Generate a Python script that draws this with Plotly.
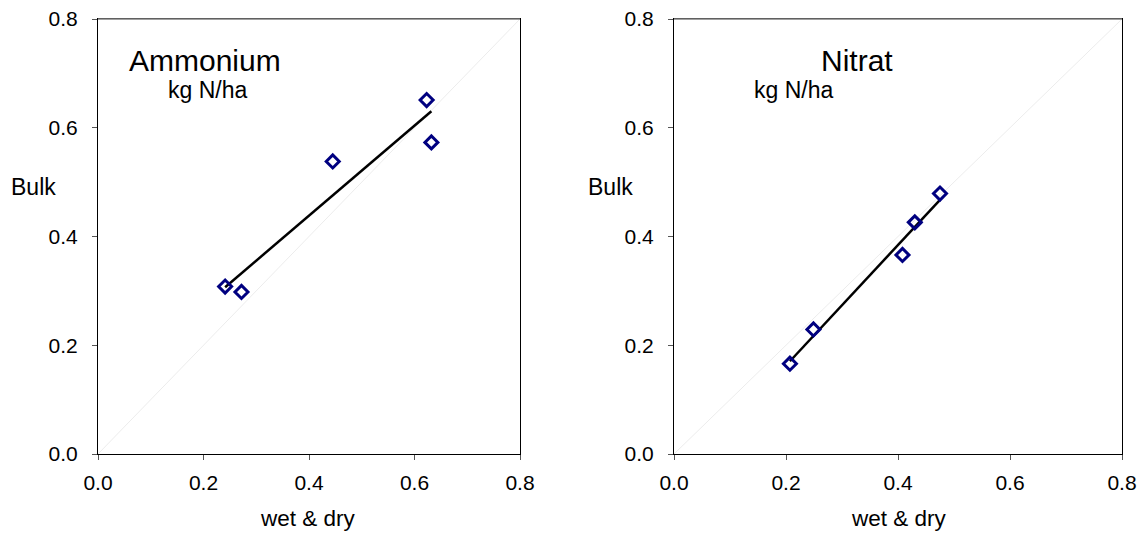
import numpy as np
import plotly.graph_objects as go

# ---- data ----
amm_wetdry = [0.241, 0.272, 0.445, 0.623, 0.632]
amm_bulk = [0.308, 0.298, 0.538, 0.651, 0.573]
nit_wetdry = [0.207, 0.249, 0.408, 0.430, 0.475]
nit_bulk = [0.166, 0.229, 0.366, 0.426, 0.479]
diag = [0.0, 0.8]
tick_vals = [0.0, 0.2, 0.4, 0.6, 0.8]
tick_text = ["0.0", "0.2", "0.4", "0.6", "0.8"]

W, H = 1146, 534
FONT = "Liberation Sans, Arial, sans-serif"


def px(x):
    return x / W


def py(y):
    return 1 - y / H


fig = go.Figure()


def add_panel(xd, yd, xa, ya):
    fig.add_trace(go.Scatter(x=diag, y=diag, mode="lines",
                             line=dict(color="#ececec", width=1),
                             xaxis=xa, yaxis=ya, showlegend=False, hoverinfo="skip"))
    m, b = np.polyfit(xd, yd, 1)
    xs = np.array([min(xd), max(xd)])
    fig.add_trace(go.Scatter(x=xs, y=m * xs + b, mode="lines",
                             line=dict(color="black", width=2.5),
                             xaxis=xa, yaxis=ya, showlegend=False))
    fig.add_trace(go.Scatter(x=xd, y=yd, mode="markers",
                             marker=dict(symbol="diamond-open", size=10, color="#000080",
                                         line=dict(color="#000080", width=3)),
                             xaxis=xa, yaxis=ya, showlegend=False))


add_panel(amm_wetdry, amm_bulk, "x", "y")
add_panel(nit_wetdry, nit_bulk, "x2", "y2")

ydom = [py(454), py(19)]
axis_common = dict(range=[0, 0.8], tickvals=tick_vals, ticktext=tick_text,
                   showgrid=False, zeroline=False, showline=True, linecolor="black",
                   linewidth=1, mirror=True, ticks="outside", ticklen=5, tickwidth=1,
                   tickcolor="#555", automargin=False,
                   tickfont=dict(family=FONT, size=21, color="black"))

fig.update_layout(
    width=W, height=H,
    margin=dict(l=0, r=0, t=0, b=0, autoexpand=False),
    paper_bgcolor="white", plot_bgcolor="white",
    xaxis=dict(domain=[px(98), px(520)], anchor="y", ticklabelstandoff=5, **axis_common),
    yaxis=dict(domain=ydom, anchor="x", ticklabelstandoff=10, **axis_common),
    xaxis2=dict(domain=[px(674), px(1122)], anchor="y2", ticklabelstandoff=5, **axis_common),
    yaxis2=dict(domain=ydom, anchor="x2", ticklabelstandoff=10, **axis_common),
)

# gray top borders
for x0, x1 in [(98, 520), (674, 1122)]:
    fig.add_shape(type="line", xref="paper", yref="paper", x0=px(x0), x1=px(x1),
                  y0=py(19), y1=py(19), line=dict(color="#808080", width=1.5))

ann = [
    ("Ammonium", 205, 61, 30),
    ("kg N/ha", 207, 90, 23),
    ("Nitrat", 857, 61, 30),
    ("kg N/ha", 793, 90, 23),
    ("Bulk", 33, 187, 23),
    ("Bulk", 610, 187, 23),
    ("wet & dry", 308, 518, 22.5),
    ("wet & dry", 899, 518, 22.5),
]
for text, x, y, s in ann:
    fig.add_annotation(text=text, xref="paper", yref="paper", x=px(x), y=py(y),
                       xanchor="center", yanchor="middle", showarrow=False,
                       borderpad=0,
                       font=dict(family=FONT, size=s, color="black"))

fig.write_html("out.html")
